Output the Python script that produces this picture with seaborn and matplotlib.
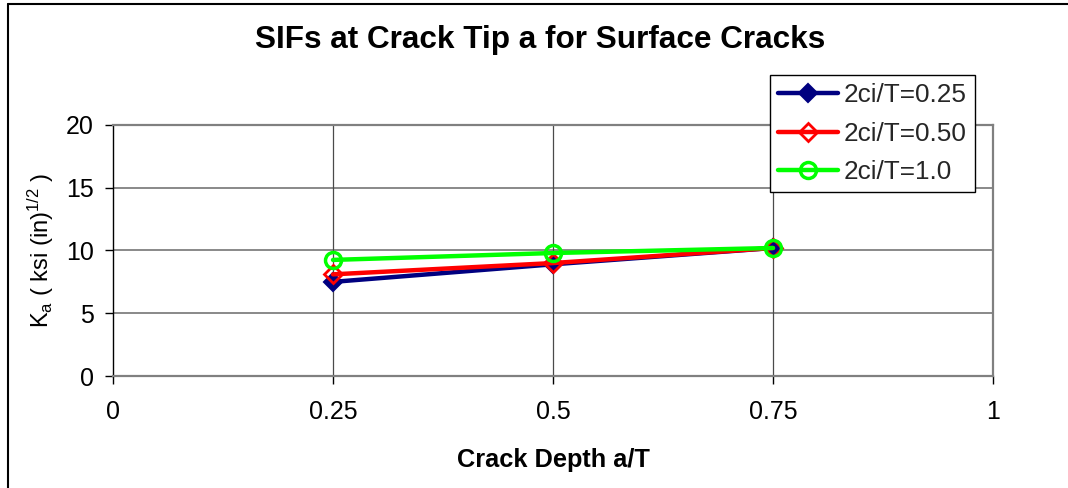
import matplotlib
matplotlib.use("Agg")
import matplotlib.pyplot as plt
import seaborn as sns
import pandas as pd
from matplotlib.lines import Line2D

# ---- data ----
crack_depth = [0.25, 0.5, 0.75]
series_labels = ["2ci/T=0.25", "2ci/T=0.50", "2ci/T=1.0"]
ka_025 = [7.5, 8.9, 10.2]
ka_050 = [8.1, 9.0, 10.2]
ka_100 = [9.25, 9.8, 10.2]
x_ticks = [0, 0.25, 0.5, 0.75, 1]
x_tick_labels = ["0", "0.25", "0.5", "0.75", "1"]
y_ticks = [0, 5, 10, 15, 20]

sns.set_theme(style="white")
plt.rcParams["font.family"] = ["Liberation Sans", "DejaVu Sans"]
plt.rcParams["mathtext.fontset"] = "custom"
plt.rcParams["mathtext.rm"] = "Liberation Sans"
plt.rcParams["mathtext.it"] = "Liberation Sans:italic"

fig = plt.figure(figsize=(10.68, 4.88), dpi=100)
fig.patch.set_facecolor("white")
W, H = 1068, 488
left, right, top, bottom = 113, 993, 125, 376
ax = fig.add_axes([left / W, 1 - bottom / H, (right - left) / W, (bottom - top) / H])
ax.set_facecolor("white")

df = pd.DataFrame({
    "x": crack_depth * 3,
    "y": ka_025 + ka_050 + ka_100,
    "series": [series_labels[0]] * 3 + [series_labels[1]] * 3 + [series_labels[2]] * 3,
})

styles = [
    dict(color="#000080", marker="D", markersize=9, markerfacecolor="#000080", markeredgecolor="#000080", markeredgewidth=1.5),
    dict(color="#FF0000", marker="D", markersize=9, markerfacecolor="none", markeredgecolor="#FF0000", markeredgewidth=2),
    dict(color="#00FF00", marker="o", markersize=11.5, markerfacecolor="none", markeredgecolor="#00FF00", markeredgewidth=2.5),
]

for lab, st in zip(series_labels, styles):
    sub = df[df["series"] == lab]
    sns.lineplot(data=sub, x="x", y="y", ax=ax, linewidth=3.2, legend=False, **st)

ax.set_xlim(0, 1)
ax.set_ylim(0, 20)
ax.set_xticks(x_ticks)
ax.set_xticklabels(x_tick_labels)
ax.set_yticks(y_ticks)

# gridlines
for yv in y_ticks[1:]:
    ax.axhline(yv, color="#808080", lw=1.3, zorder=0.5)
for xv in x_ticks[1:-1]:
    ax.axvline(xv, color="#4a4a4a", lw=0.9, zorder=0.5)

for s in ["top", "right", "bottom"]:
    ax.spines[s].set_color("#808080")
    ax.spines[s].set_linewidth(1.6)
ax.spines["left"].set_color("#000000")
ax.spines["left"].set_linewidth(1.0)

ax.tick_params(axis="both", which="major", direction="out", length=6, width=1,
               color="black", labelsize=18, labelcolor="black")
ax.tick_params(axis="x", pad=11, bottom=True)
ax.tick_params(axis="y", pad=8, left=True)

ax.set_xlabel("Crack Depth a/T", fontsize=18.3, fontweight="bold", color="black")
ax.xaxis.set_label_coords(0.5, -(460 - bottom) / (bottom - top), transform=ax.transAxes)
ax.xaxis.label.set_va("center")
ax.set_ylabel(r"K$_{\mathrm{a}}$ ( ksi (in)$^{\mathrm{1/2}}$ )", fontsize=17, color="black")
ax.yaxis.set_label_coords(-(left - 41) / (right - left), 0.5, transform=ax.transAxes)
ax.yaxis.label.set_va("center")

fig.text(540 / W, 1 - 40 / H, "SIFs at Crack Tip a for Surface Cracks",
         fontsize=22.7, fontweight="bold", ha="center", va="center", color="black")

handles = [Line2D([0], [0], linewidth=3.2, **st) for st in styles]
leg = fig.legend(handles, series_labels, loc="upper left",
                 bbox_to_anchor=(770 / W, 1 - 75 / H), fontsize=18.8,
                 frameon=True, fancybox=False, shadow=False, framealpha=1,
                 edgecolor="black", handlelength=2.3, handletextpad=0.2,
                 borderpad=0.32, labelspacing=0.55, borderaxespad=0)
leg.get_frame().set_linewidth(1.0)
leg.set_zorder(10)

# outer chart border (left and top)
fig.add_artist(Line2D([8 / W, 8 / W], [0, 1 - 4 / H], color="black", lw=1.5, transform=fig.transFigure))
fig.add_artist(Line2D([8 / W, 1], [1 - 4 / H, 1 - 4 / H], color="black", lw=1.5, transform=fig.transFigure))

fig.savefig("out.png", dpi=100, facecolor="white")
